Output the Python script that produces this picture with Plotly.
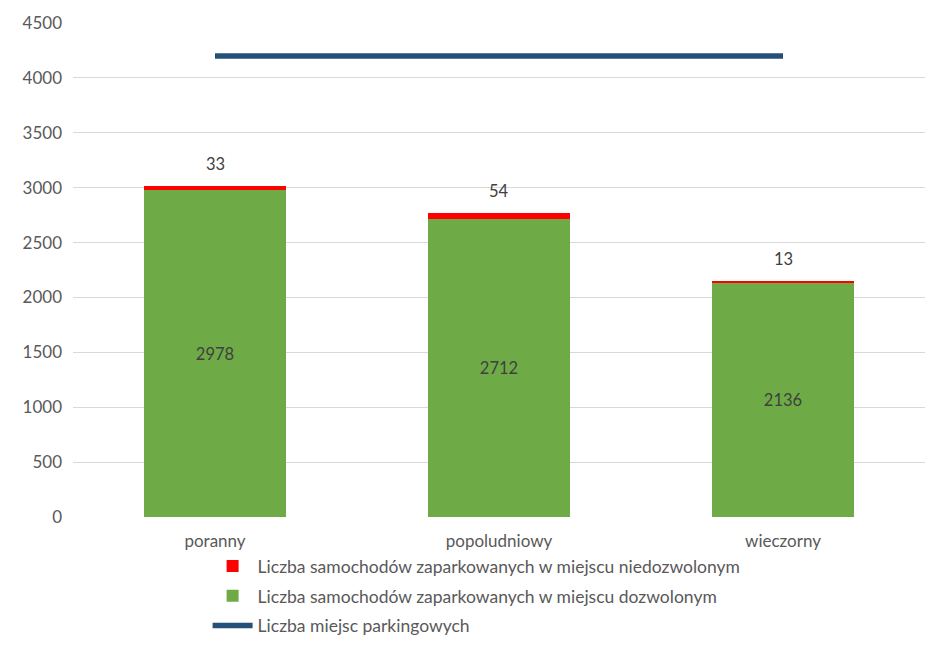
import plotly.graph_objects as go

categories = ["poranny", "popoludniowy", "wieczorny"]
allowed = [2978, 2712, 2136]
illegal = [33, 54, 13]
spaces = [4200, 4200, 4200]

name_illegal = "Liczba samochodów zaparkowanych w miejscu niedozwolonym"
name_allowed = "Liczba samochodów zaparkowanych w miejscu dozwolonym"
name_spaces = "Liczba miejsc parkingowych"

FONT = "Lato"

fig = go.Figure()
fig.add_trace(go.Bar(
    x=categories, y=allowed, name=name_allowed, legendrank=2, legendgroup="b",
    marker=dict(color="#6EAB46", line=dict(width=0)),
    text=[str(v) for v in allowed], textposition="inside", insidetextanchor="middle",
    textfont=dict(family=FONT, size=16.5, color="#404040"),
))
fig.add_trace(go.Bar(
    x=categories, y=illegal, name=name_illegal, legendrank=1, legendgroup="a",
    marker=dict(color="#FF0000", line=dict(width=0)),
))
fig.add_trace(go.Scatter(
    x=categories, y=spaces, name=name_spaces, legendrank=3, legendgroup="c", mode="lines",
    line=dict(color="#24507A", width=5.5),
))

totals = [a + b for a, b in zip(allowed, illegal)]
for c, t, v in zip(categories, totals, illegal):
    fig.add_annotation(x=c, y=t, text=str(v), showarrow=False, yanchor="bottom",
                       yshift=10, font=dict(family=FONT, size=16.5, color="#404040"))

fig.update_layout(
    width=945, height=654,
    margin=dict(l=73, r=20, t=23, b=137, autoexpand=False),
    barmode="stack", bargap=0.497,
    plot_bgcolor="white", paper_bgcolor="white",
    font=dict(family=FONT, size=16, color="#595959"),
    showlegend=True,
    legend=dict(orientation="v", x=0.158, xanchor="left", y=-0.063, yanchor="top",
                traceorder="grouped",
                font=dict(family=FONT, size=17.5, color="#595959"),
                tracegroupgap=4, itemwidth=40, bgcolor="rgba(0,0,0,0)"),
)
fig.update_xaxes(showgrid=False, showline=False, ticks="", ticklabelstandoff=12,
                 tickfont=dict(family=FONT, size=17, color="#595959"))
fig.update_yaxes(range=[0, 4500], dtick=500, showgrid=True, gridcolor="#D9D9D9",
                 gridwidth=1, zeroline=False, showline=False, ticks="",
                 tickfont=dict(family=FONT, size=17, color="#595959"), ticklabelstandoff=10)

fig.write_html("out.html")
